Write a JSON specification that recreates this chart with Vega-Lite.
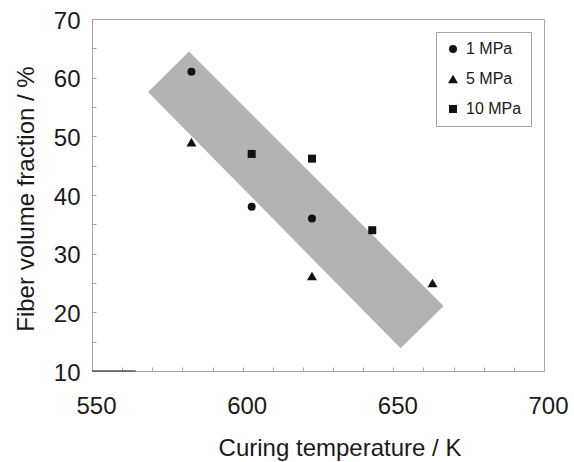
{
  "$schema": "https://vega.github.io/schema/vega-lite/v6.json",
  "width": 452,
  "height": 352,
  "autosize": {"type": "none"},
  "padding": {"left": 92, "top": 19, "right": 30, "bottom": 91},
  "background": "white",
  "config": {
    "view": {"stroke": "#a6a6a6", "strokeWidth": 1},
    "font": "Liberation Sans",
    "axis": {
      "grid": false,
      "domainColor": "#a6a6a6",
      "tickColor": "#a6a6a6",
      "labelFont": "Liberation Sans",
      "titleFont": "Liberation Sans",
      "labelFontSize": 24,
      "titleFontSize": 24,
      "labelColor": "#1a1a1a",
      "titleColor": "#1a1a1a",
      "titleFontWeight": "normal",
      "tickSize": -4,
      "labelFlush": false,
      "labelOverlap": false
    },
    "legend": {
      "orient": "none",
      "legendX": 344,
      "legendY": 13,
      "strokeColor": "#a6a6a6",
      "fillColor": "white",
      "padding": 9,
      "labelFontSize": 16,
      "labelFont": "Liberation Sans",
      "labelColor": "#1a1a1a",
      "rowPadding": 14,
      "symbolOffset": 0,
      "labelOffset": 5,
      "symbolFillColor": "#111111",
      "symbolStrokeColor": "#111111"
    }
  },
  "datasets": {
    "band": [
      {"t": 568.6, "hi": 57.56, "lo": 57.56},
      {"t": 582.2, "hi": 64.46, "lo": 50.47},
      {"t": 652.4, "hi": 28.42, "lo": 13.87},
      {"t": 666.7, "hi": 21.08, "lo": 21.08}
    ],
    "points": [
      {"T": 583, "V": 61, "p": "1 MPa"},
      {"T": 603, "V": 38, "p": "1 MPa"},
      {"T": 623, "V": 36, "p": "1 MPa"},
      {"T": 583, "V": 49, "p": "5 MPa"},
      {"T": 623, "V": 26.2, "p": "5 MPa"},
      {"T": 663, "V": 25, "p": "5 MPa"},
      {"T": 603, "V": 47, "p": "10 MPa"},
      {"T": 623, "V": 46.2, "p": "10 MPa"},
      {"T": 643, "V": 34, "p": "10 MPa"}
    ],
    "mark": [
      {"a": 550, "b": 564.5, "y": 10}
    ]
  },
  "layer": [
    {
      "data": {"name": "band"},
      "mark": {"type": "area", "color": "#b3b3b3", "opacity": 1},
      "encoding": {
        "x": {
          "field": "t",
          "type": "quantitative",
          "scale": {"domain": [550, 700], "nice": false, "zero": false},
          "axis": {
            "values": [550, 560, 570, 580, 590, 600, 610, 620, 630, 640, 650, 660, 670, 680, 690, 700],
            "tickCount": 30,
            "labelExpr": "datum.value % 50 === 0 ? datum.label : ''",
            "labelOverlap": false,
            "labelPadding": 27,
            "labelOffset": 4,
            "title": "Curing temperature / K",
            "titleX": 247.5,
            "titleY": 84,
            "titleBaseline": "alphabetic",
            "titleAlign": "center"
          }
        },
        "y": {
          "field": "hi",
          "type": "quantitative",
          "scale": {"domain": [10, 70], "nice": false, "zero": false},
          "axis": {
            "values": [10, 15, 20, 25, 30, 35, 40, 45, 50, 55, 60, 65, 70],
            "tickCount": 30,
            "labelExpr": "datum.value % 10 === 0 ? datum.label : ''",
            "labelOverlap": false,
            "labelPadding": 16,
            "labelOffset": 2,
            "title": "Fiber volume fraction / %",
            "titleX": -59,
            "titleY": 179.5,
            "titleAngle": -90,
            "titleBaseline": "alphabetic",
            "titleAlign": "center"
          }
        },
        "y2": {"field": "lo"}
      }
    },
    {
      "data": {"name": "mark"},
      "mark": {"type": "rule", "color": "#555555", "strokeWidth": 1.5},
      "encoding": {
        "x": {"field": "a", "type": "quantitative", "title": "Curing temperature / K"},
        "x2": {"field": "b"},
        "y": {"field": "y", "type": "quantitative", "title": "Fiber volume fraction / %"}
      }
    },
    {
      "data": {"name": "points"},
      "mark": {"type": "point", "filled": true, "opacity": 1, "color": "#111111"},
      "encoding": {
        "x": {"field": "T", "type": "quantitative", "title": "Curing temperature / K"},
        "y": {"field": "V", "type": "quantitative", "title": "Fiber volume fraction / %"},
        "size": {
          "field": "p",
          "type": "nominal",
          "scale": {"type": "ordinal", "domain": ["1 MPa", "5 MPa", "10 MPa"], "range": [64, 100, 64]},
          "legend": {"title": null}
        },
        "shape": {
          "field": "p",
          "type": "nominal",
          "scale": {"domain": ["1 MPa", "5 MPa", "10 MPa"], "range": ["circle", "triangle-up", "square"]},
          "legend": {"title": null}
        }
      }
    }
  ]
}
